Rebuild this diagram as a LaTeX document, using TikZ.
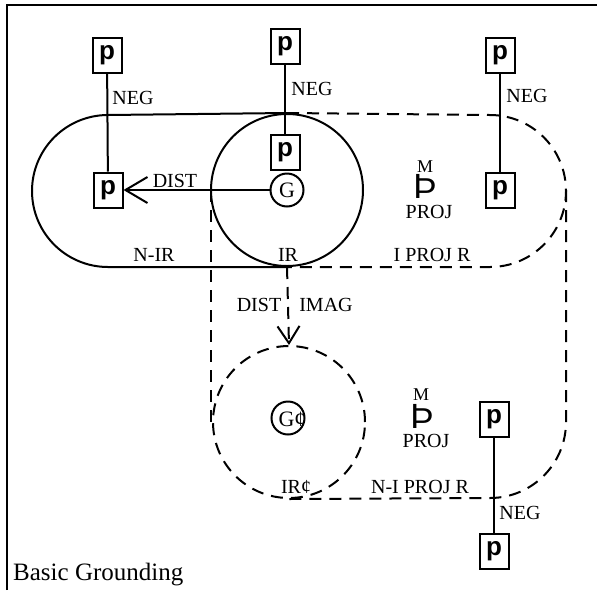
\documentclass[tikz,border=0pt]{standalone}
\usepackage{fontspec}
\setmainfont{Liberation Serif}
\setsansfont{Liberation Sans}
\usetikzlibrary{arrows.meta}
\tikzstyle{line} = [line width=2pt]
\tikzstyle{dline} = [line width=2pt, dash pattern=on 12pt off 8pt]
\tikzstyle{pbox} = [draw, rectangle, line width=2pt, minimum width=29pt, minimum height=35pt, inner sep=0pt, font=\sffamily\bfseries\fontsize{26}{26}\selectfont]
\tikzstyle{ring} = [draw, circle, line width=2pt, minimum size=33pt, inner sep=0pt]
\tikzstyle{lbl} = [inner sep=0pt, font=\fontsize{20}{22}\selectfont]
\tikzstyle{thorn} = [inner sep=0pt, font=\sffamily\fontsize{35}{35}\selectfont]

\begin{document}
\begin{tikzpicture}[x=1pt, y=-1pt]
    \useasboundingbox (0,0) rectangle (597,590);
    \draw[line width=2.4pt] (7,590) -- (7,5) -- (597,5);

    % regions
    \node[ring, minimum size=152pt](IR) at (287,190){};
    \node[ring, dline, minimum size=152pt](IRp) at (289,422){};
    \draw[line](IR.north) -- (108,115) arc[start angle=270, end angle=90, radius=76] -- (IR.south);
    \draw[dline](IR.north) -- (490,115) arc[start angle=-90, end angle=90, radius=76] -- (IR.south);
    \draw[dline](211,190) -- (211,422);
    \draw[dline](566,190) -- (566,422) arc[start angle=0, end angle=90, radius=76] -- (IRp.south);

    % propositions
    \node[pbox](pTL) at (107,55){p};
    \node[pbox](pML) at (108,190){p};
    \node[pbox](pTM) at (285,46){p};
    \node[pbox](pMM) at (285,152){p};
    \node[pbox](pTR) at (500,55){p};
    \node[pbox](pMR) at (500,190){p};
    \node[pbox](pBU) at (494,419){p};
    \node[pbox](pBL) at (494,551){p};
    \node[ring, font=\fontsize{22}{24}\selectfont](G) at (287,190){G};
    \node[ring](Gp) at (288,418){};
    \node[lbl, font=\fontsize{22}{24}\selectfont] at (292,419){G¢};

    \path[line](pTL) edge (pML);
    \path[line](pTM) edge (pMM);
    \path[line](pTR) edge (pMR);
    \path[line](pBU) edge (pBL);
    \path[line, -{Straight Barb[length=22pt, width=26pt]}](G) edge (pML);
    \path[dline, -{Straight Barb[length=17pt, width=22pt]}](IR.south) edge (IRp.north);

    % labels
    \node[lbl](neg1) at (133,98){NEG};
    \node[lbl](neg2) at (312,89){NEG};
    \node[lbl](neg3) at (527,96){NEG};
    \node[lbl](neg4) at (520,513){NEG};
    \node[lbl](dist) at (175,181){DIST};
    \node[lbl](nir) at (154,255){N-IR};
    \node[lbl](ir) at (288,255){IR};
    \node[lbl](iprojr) at (432,255){I PROJ R};
    \node[lbl](dist2) at (259,305){DIST};
    \node[lbl](imag) at (326,305){IMAG};
    \node[lbl](irp) at (296,487){IR¢};
    \node[lbl](niprojr) at (420,487){N-I PROJ R};

    \node[thorn](M1) at (425,186){Þ};
    \node[lbl, font=\fontsize{18}{20}\selectfont] at (425,167){M};
    \node[lbl](proj1) at (429,212){PROJ};
    \node[thorn](M2) at (422,416){Þ};
    \node[lbl, font=\fontsize{18}{20}\selectfont] at (421,395){M};
    \node[lbl](proj2) at (426,441){PROJ};

    \node[lbl, anchor=base west, font=\fontsize{25}{28}\selectfont](title) at (13,580){Basic Grounding};
\end{tikzpicture}
\end{document}
